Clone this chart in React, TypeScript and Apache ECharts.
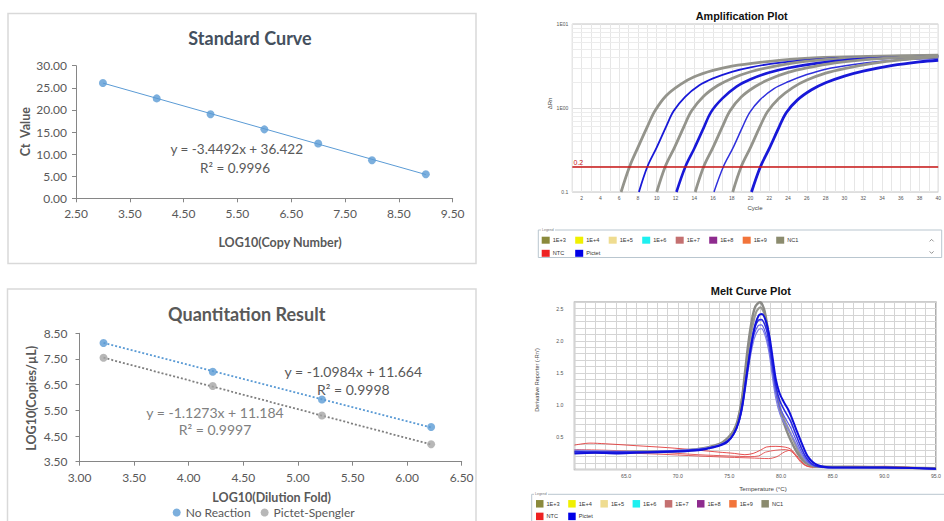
import { useEffect, useRef } from 'react';
import * as echarts from 'echarts';

// ---------- Standard curve ----------
const stdLogCopies = [3, 4, 5, 6, 7, 8, 9];
const stdCt = [26.1, 22.6, 19.0, 15.6, 12.4, 8.6, 5.45];
const stdFit = [[3, 26.07], [9, 5.38]];
const stdXTicks = { min: 2.5, max: 9.5, step: 1 };
const stdYTicks = { min: 0, max: 30, step: 5 };

// ---------- Quantitation result ----------
const qDilution = [3.22, 4.22, 5.22, 6.22];
const qNoReaction = [8.12, 7.0, 5.92, 4.85];
const qPictet = [7.55, 6.45, 5.3, 4.18];
const qNoReactionFit = [[3.22, 8.13], [6.22, 4.83]];
const qPictetFit = [[3.22, 7.55], [6.22, 4.17]];

// ---------- Amplification plot (cycle, ΔRn) ----------
const ampG1 = [[6.2, 0.1], [7.1, 0.2], [8, 0.34], [9, 0.6], [9.8, 0.92], [11, 1.4], [12.5, 1.9], [14, 2.35], [16, 2.8], [18, 3.15], [21, 3.5], [25, 3.85], [30, 4.05], [35, 4.18], [40, 4.25]];
const ampB1 = [[8.1, 0.1], [9, 0.2], [10, 0.34], [11, 0.6], [11.8, 0.92], [13, 1.35], [14.5, 1.85], [16, 2.25], [18, 2.7], [20, 3.05], [23, 3.45], [27, 3.8], [31, 3.98], [35, 4.08], [40, 4.15]];
const ampG2 = [[10, 0.1], [10.9, 0.2], [11.9, 0.34], [12.9, 0.6], [13.7, 0.92], [15, 1.38], [16.5, 1.85], [18, 2.25], [20, 2.7], [22, 3.05], [25, 3.5], [29, 3.85], [33, 4.05], [37, 4.15], [40, 4.2]];
const ampB2 = [[12.1, 0.1], [13.05, 0.2], [14, 0.33], [15, 0.58], [15.8, 0.9], [17, 1.3], [18.5, 1.8], [20, 2.2], [22, 2.65], [24, 3.0], [27, 3.4], [30, 3.7], [34, 3.92], [40, 4.1]];
const ampG3 = [[14.1, 0.1], [15, 0.2], [16, 0.34], [17, 0.6], [17.8, 0.92], [19, 1.35], [20.5, 1.8], [22, 2.2], [24, 2.65], [26, 3.0], [29, 3.45], [32, 3.75], [36, 4.0], [40, 4.15]];
const ampB3 = [[16.1, 0.1], [17.1, 0.2], [18.1, 0.33], [19.1, 0.58], [19.9, 0.88], [21, 1.25], [22.5, 1.7], [24, 2.05], [26, 2.5], [28, 2.9], [31, 3.3], [34, 3.6], [37, 3.8], [40, 3.95]];
const ampG4 = [[18.1, 0.1], [19, 0.2], [20, 0.34], [21, 0.6], [21.8, 0.9], [23, 1.3], [24.5, 1.75], [26, 2.15], [28, 2.6], [30, 2.95], [33, 3.4], [36, 3.75], [40, 4.05]];
const ampB4 = [[20.1, 0.1], [21.05, 0.2], [22, 0.33], [23, 0.58], [23.8, 0.88], [25, 1.25], [26.5, 1.65], [28, 2.0], [30, 2.4], [32, 2.75], [35, 3.2], [38, 3.55], [40, 3.7]];
const ampThreshold = 0.2;
const ampMinorGrid = [0.2, 0.3, 0.4, 0.5, 0.6, 0.7, 0.8, 0.9, 2, 3, 4, 5, 6, 7, 8, 9];

// ---------- Melt curve plot (°C, -Rn') ----------
const meltGray1 = [[60, 0.29], [61, 0.28], [62, 0.28], [64, 0.27], [66, 0.28], [68, 0.28], [70, 0.29], [71.5, 0.31], [72.5, 0.33], [73.5, 0.37], [74.3, 0.42], [74.9, 0.5], [75.4, 0.6], [75.8, 0.76], [76.2, 1.08], [76.5, 1.5], [76.8, 1.92], [77.15, 2.3], [77.5, 2.53], [77.95, 2.6], [78.35, 2.5], [78.7, 2.2], [79.05, 1.76], [79.4, 1.35], [79.7, 1.07], [80.0, 0.86], [80.5, 0.62], [81.0, 0.43], [81.6, 0.25], [82.3, 0.11], [83.2, 0.05], [85, 0.04], [88, 0.04], [91, 0.03], [95, 0.02]];
const meltGray2 = [[60, 0.26], [62, 0.26], [64, 0.26], [66, 0.27], [68, 0.27], [70, 0.28], [72, 0.31], [73.5, 0.36], [74.5, 0.43], [75.1, 0.52], [75.6, 0.66], [76.0, 0.9], [76.4, 1.3], [76.8, 1.8], [77.2, 2.2], [77.6, 2.45], [78.0, 2.52], [78.4, 2.42], [78.75, 2.12], [79.1, 1.7], [79.45, 1.3], [79.8, 1.02], [80.3, 0.78], [80.8, 0.6], [81.3, 0.42], [81.9, 0.22], [82.6, 0.09], [83.5, 0.04], [86, 0.04], [90, 0.03], [95, 0.02]];
const meltBlue1 = [[60, 0.25], [62, 0.26], [64, 0.25], [66, 0.26], [68, 0.27], [70, 0.28], [72, 0.3], [73, 0.33], [74, 0.37], [74.8, 0.43], [75.4, 0.55], [75.9, 0.74], [76.3, 1.05], [76.7, 1.5], [77.1, 1.92], [77.5, 2.25], [77.85, 2.4], [78.15, 2.42], [78.55, 2.3], [78.9, 2.05], [79.2, 1.72], [79.5, 1.4], [79.85, 1.19], [80.3, 1.04], [80.7, 0.93], [81.0, 0.82], [81.5, 0.61], [82.0, 0.41], [82.6, 0.2], [83.5, 0.07], [85, 0.03], [90, 0.03], [95, 0.01]];
const meltBlue2 = [[60, 0.28], [62, 0.27], [64, 0.27], [66, 0.27], [68, 0.28], [70, 0.29], [72, 0.31], [73.5, 0.35], [74.5, 0.41], [75.2, 0.5], [75.7, 0.65], [76.2, 0.95], [76.6, 1.4], [77.0, 1.85], [77.4, 2.18], [77.8, 2.32], [78.1, 2.33], [78.5, 2.22], [78.85, 1.98], [79.15, 1.65], [79.5, 1.3], [79.9, 1.06], [80.4, 0.9], [80.9, 0.76], [81.4, 0.56], [81.9, 0.36], [82.5, 0.17], [83.3, 0.06], [85, 0.03], [90, 0.03], [95, 0.01]];
const meltBlue3 = [[60, 0.27], [63, 0.27], [66, 0.27], [69, 0.28], [72, 0.31], [73.5, 0.35], [74.5, 0.41], [75.2, 0.5], [75.7, 0.64], [76.2, 0.92], [76.6, 1.35], [77.0, 1.78], [77.4, 2.1], [77.8, 2.24], [78.1, 2.25], [78.5, 2.12], [78.85, 1.88], [79.15, 1.55], [79.5, 1.2], [79.9, 0.96], [80.4, 0.8], [80.9, 0.66], [81.4, 0.48], [81.9, 0.3], [82.5, 0.14], [83.3, 0.05], [85, 0.03], [90, 0.03], [95, 0.01]];
const meltBlue4 = [[60, 0.3], [63, 0.29], [66, 0.28], [69, 0.29], [72, 0.32], [73.5, 0.36], [74.5, 0.42], [75.2, 0.51], [75.7, 0.64], [76.2, 0.9], [76.6, 1.3], [77.0, 1.72], [77.4, 2.03], [77.8, 2.17], [78.1, 2.19], [78.5, 2.06], [78.85, 1.8], [79.15, 1.45], [79.5, 1.1], [79.9, 0.86], [80.4, 0.7], [80.9, 0.57], [81.4, 0.42], [81.9, 0.26], [82.5, 0.12], [83.3, 0.05], [85, 0.03], [90, 0.03], [95, 0.01]];
const meltNtc1 = [[60, 0.38], [61.5, 0.41], [63, 0.4], [66, 0.37], [69, 0.34], [72, 0.3], [74, 0.27], [75.5, 0.25], [76.5, 0.23], [77.3, 0.25], [78, 0.3], [78.6, 0.35], [79.5, 0.36], [80.3, 0.35], [80.9, 0.32], [81.5, 0.22], [82.2, 0.09], [83, 0.04], [86, 0.04], [90, 0.05], [93, 0.03], [95, 0.02]];
const meltNtc2 = [[60, 0.31], [63, 0.3], [66, 0.28], [69, 0.26], [72, 0.23], [75, 0.21], [77, 0.2], [77.8, 0.21], [78.5, 0.27], [79.5, 0.3], [80.4, 0.31], [81, 0.28], [81.6, 0.18], [82.3, 0.07], [83, 0.04], [87, 0.05], [91, 0.04], [95, 0.02]];
const meltNtc3 = [[60, 0.27], [64, 0.26], [68, 0.24], [72, 0.21], [75, 0.19], [77, 0.18], [78.8, 0.17], [79.6, 0.2], [80.3, 0.27], [80.9, 0.3], [81.4, 0.22], [82, 0.1], [82.8, 0.04], [88, 0.04], [95, 0.02]];

// ---------- instrument legends ----------
const qpcrLegendNames = ['1E+3', '1E+4', '1E+5', '1E+6', '1E+7', '1E+8', '1E+9', 'NC1', 'NTC', 'Pictet'];
const qpcrLegendColors = ['#8b8a3c', '#f0f000', '#efdc90', '#1ef0f0', '#c47070', '#8e2b8e', '#f2743a', '#8b8b6e', '#ee2222', '#0000e6'];

const XL_FONT = 'Lato, "Open Sans", sans-serif';
const INST_FONT = '"Liberation Sans", Arial, sans-serif';
const AX = '#868686';
const TXT = '#595959';
const GRAY_AMP = '#94948c';
const BLUE_AMP = '#1818d8';

function txt(x: number, y: number, text: string, size: number, opts: any = {}) {
  return {
    type: 'text',
    x,
    y,
    rotation: opts.rotation || 0,
    silent: true,
    z: 100,
    style: {
      text,
      fill: opts.fill || TXT,
      fontSize: size,
      fontWeight: opts.bold ? 'bold' : 'normal',
      fontFamily: opts.font || XL_FONT,
      align: opts.align || 'center',
      verticalAlign: 'middle',
      textAlign: opts.align || 'center',
      textVerticalAlign: 'middle',
    },
  };
}

function legendBox(x0: number, y1: number, y2: number, dx: number, sw: number, sh: number, fs: number) {
  const els: any[] = [];
  qpcrLegendNames.forEach((name, i) => {
    const row = i < 8 ? 0 : 1;
    const col = i < 8 ? i : i - 8;
    const x = x0 + col * dx;
    const y = row === 0 ? y1 : y2;
    els.push({ type: 'rect', silent: true, z: 100, shape: { x, y: y - sh / 2, width: sw, height: sh }, style: { fill: qpcrLegendColors[i] } });
    els.push(txt(x + sw + 3, y, name, fs, { align: 'left', font: INST_FONT, fill: '#333' }));
  });
  return els;
}

export default function App() {
  const ref = useRef<HTMLDivElement>(null);
  useEffect(() => {
    if (!ref.current) return;
    const chart = echarts.init(ref.current, null, { renderer: 'svg' });

    const xlAxisCommon = {
      axisLine: { show: true, onZero: false, lineStyle: { color: AX, width: 1 } },
      axisTick: { show: true, length: 4, lineStyle: { color: AX } },
      splitLine: { show: false },
    };
    const fmt2 = (v: number) => v.toFixed(2);

    const ampGroups = [
      { d: ampG1, c: GRAY_AMP, w: 2.8 }, { d: ampB1, c: BLUE_AMP, w: 1.8 }, { d: ampG2, c: GRAY_AMP, w: 2.8 }, { d: ampB2, c: BLUE_AMP, w: 2.6 },
      { d: ampG3, c: GRAY_AMP, w: 2.8 }, { d: ampB3, c: '#3030dc', w: 1.5 }, { d: ampG4, c: GRAY_AMP, w: 2.8 }, { d: ampB4, c: BLUE_AMP, w: 2.8 },
    ];
    const meltCurves = [
      { d: meltNtc1, c: '#e23a3a', w: 0.9 }, { d: meltNtc2, c: '#e25050', w: 0.9 }, { d: meltNtc3, c: '#e24a4a', w: 0.9 },
      { d: meltGray2, c: '#9a9a94', w: 2.2 }, { d: meltGray1, c: '#8a8a86', w: 2.4 },
      { d: meltBlue4, c: '#8080e6', w: 1.2 }, { d: meltBlue3, c: '#5a5ae6', w: 1.2 },
      { d: meltBlue2, c: '#2a2ae0', w: 1.6 }, { d: meltBlue1, c: '#1010dc', w: 2 },
    ];

    const series: any[] = [
      // standard curve
      { type: 'line', name: 'Standard fit', xAxisIndex: 0, yAxisIndex: 0, data: stdFit, showSymbol: false, lineStyle: { color: '#5b9bd5', width: 1 }, z: 2 },
      { type: 'scatter', name: 'Ct', xAxisIndex: 0, yAxisIndex: 0, data: stdLogCopies.map((x, i) => [x, stdCt[i]]), symbolSize: 8, itemStyle: { color: '#5b9bd5' }, z: 3 },
      // quantitation
      { type: 'line', name: 'No Reaction fit', xAxisIndex: 1, yAxisIndex: 1, data: qNoReactionFit, showSymbol: false, lineStyle: { color: '#5b9bd5', width: 1.8, type: [2, 2] }, z: 2 },
      { type: 'line', name: 'Pictet fit', xAxisIndex: 1, yAxisIndex: 1, data: qPictetFit, showSymbol: false, lineStyle: { color: '#7f7f7f', width: 1.8, type: [2, 2] }, z: 2 },
      { type: 'scatter', name: 'No Reaction', xAxisIndex: 1, yAxisIndex: 1, data: qDilution.map((x, i) => [x, qNoReaction[i]]), symbolSize: 8, itemStyle: { color: '#5b9bd5' }, z: 3 },
      { type: 'scatter', name: 'Pictet-Spengler', xAxisIndex: 1, yAxisIndex: 1, data: qDilution.map((x, i) => [x, qPictet[i]]), symbolSize: 8, itemStyle: { color: '#a5a5a5' }, z: 3 },
      // amplification grid lines (minor log) + threshold
      {
        type: 'line', name: 'amp-grid', xAxisIndex: 2, yAxisIndex: 2, data: [[1, 0.1]], showSymbol: false, lineStyle: { opacity: 0 }, z: 1, silent: true,
        markLine: { z: 1, silent: true, symbol: 'none', label: { show: false }, lineStyle: { color: '#ececec', width: 1, type: 'solid' }, data: ampMinorGrid.map((v) => ({ yAxis: v })) },
      },
      ...ampGroups.map((g, i) => ({
        type: 'line', name: 'amp' + i, xAxisIndex: 2, yAxisIndex: 2, data: g.d, showSymbol: false, smooth: 0.35,
        lineStyle: { color: g.c, width: g.w }, z: 3,
      })),
      {
        type: 'line', name: 'threshold', xAxisIndex: 2, yAxisIndex: 2, data: [[1, 0.1]], showSymbol: false, lineStyle: { opacity: 0 }, z: 5, silent: true,
        markLine: { z: 6, silent: true, symbol: 'none', label: { show: false }, lineStyle: { color: '#c81414', width: 1.6, type: 'solid' }, data: [{ yAxis: ampThreshold }] },
      },
      // melt curves
      ...meltCurves.map((m, i) => ({
        type: 'line', name: 'melt' + i, xAxisIndex: 3, yAxisIndex: 3, data: m.d, showSymbol: false, smooth: 0.3,
        lineStyle: { color: m.c, width: m.w }, z: 3,
      })),
    ];

    const graphic: any[] = [
      // panel boxes
      { type: 'rect', silent: true, z: -1, shape: { x: 8, y: 13.5, width: 468, height: 250 }, style: { fill: 'none', stroke: '#d9d9d9', lineWidth: 1.5 } },
      { type: 'rect', silent: true, z: -1, shape: { x: 7.5, y: 289, width: 468.5, height: 245 }, style: { fill: 'none', stroke: '#d9d9d9', lineWidth: 1.5 } },
      // standard curve texts
      txt(250, 38.3, 'Standard Curve', 18, { bold: true, fill: '#44505e' }),
      txt(25, 131.7, 'Ct  Value', 12.5, { bold: true, rotation: Math.PI / 2 }),
      txt(280, 242.7, 'LOG10(Copy Number)', 12.5, { bold: true }),
      txt(236.7, 149.3, 'y = -3.4492x + 36.422', 13.5),
      txt(235, 167.7, 'R² = 0.9996', 13.5),
      // quantitation texts
      txt(246.7, 314.3, 'Quantitation Result', 18, { bold: true }),
      txt(31.7, 398.3, 'LOG10(Copies/µL)', 12.5, { bold: true, rotation: Math.PI / 2 }),
      txt(271.7, 497.3, 'LOG10(Dilution Fold)', 12.5, { bold: true }),
      txt(353.3, 371, 'y = -1.0984x + 11.664', 14),
      txt(353.3, 389, 'R² = 0.9998', 14),
      txt(215, 412.7, 'y = -1.1273x + 11.184', 14, { fill: '#808080' }),
      txt(215, 429.3, 'R² = 0.9997', 14, { fill: '#808080' }),
      // amplification texts
      txt(741.7, 16.3, 'Amplification Plot', 10.8, { bold: true, font: INST_FONT, fill: '#111' }),
      txt(755, 207.5, 'Cycle', 6, { font: INST_FONT, fill: '#444' }),
      txt(550, 103.5, 'ΔRn', 6, { font: INST_FONT, fill: '#444', rotation: Math.PI / 2 }),
      txt(573.5, 162.2, '0.2', 7, { font: INST_FONT, fill: '#c81414', align: 'left' }),
      // amplification legend
      { type: 'rect', silent: true, z: 99, shape: { x: 538.3, y: 230, width: 403.4, height: 27.5 }, style: { fill: '#fff', stroke: '#b9c6cf', lineWidth: 1 } },
      { type: 'rect', silent: true, z: 99, shape: { x: 541, y: 228, width: 14, height: 4 }, style: { fill: '#fff' } },
      txt(542, 230, 'Legend', 3.5, { font: INST_FONT, fill: '#777', align: 'left' }),
      ...legendBox(541.7, 240.2, 253.3, 33.5, 8, 7, 5.6),
      { type: 'polyline', silent: true, z: 100, shape: { points: [[929.6, 241.4], [931.6, 239.4], [933.6, 241.4]] }, style: { stroke: '#777', fill: 'none', lineWidth: 0.8 } },
      { type: 'polyline', silent: true, z: 100, shape: { points: [[929.6, 251.4], [931.6, 253.4], [933.6, 251.4]] }, style: { stroke: '#777', fill: 'none', lineWidth: 0.8 } },
      // melt texts
      txt(750.8, 291, 'Melt Curve Plot', 11, { bold: true, font: INST_FONT, fill: '#111' }),
      txt(763, 488.3, 'Temperature (°C)', 6.2, { font: INST_FONT, fill: '#444' }),
      txt(537.3, 380, "Derivative Reporter (-Rn')", 5.6, { font: INST_FONT, fill: '#444', rotation: Math.PI / 2 }),
      // melt legend
      { type: 'rect', silent: true, z: 99, shape: { x: 531.7, y: 494.3, width: 420, height: 40 }, style: { fill: '#fff', stroke: '#b9c6cf', lineWidth: 1 } },
      { type: 'rect', silent: true, z: 99, shape: { x: 534, y: 492.3, width: 14, height: 4 }, style: { fill: '#fff' } },
      txt(535, 494.3, 'Legend', 3.5, { font: INST_FONT, fill: '#777', align: 'left' }),
      ...legendBox(536, 503.8, 516.4, 32.2, 7.5, 7.5, 5.6),
    ];

    chart.setOption({
      animation: false,
      backgroundColor: '#ffffff',
      textStyle: { fontFamily: XL_FONT },
      legend: {
        data: ['No Reaction', 'Pictet-Spengler'],
        left: 172.7,
        top: 506.5,
        icon: 'circle',
        itemWidth: 8,
        itemHeight: 8,
        itemGap: 10,
        padding: 0,
        textStyle: { fontSize: 12, color: TXT, fontFamily: XL_FONT },
        selectedMode: false,
      },
      grid: [
        { left: 76, top: 65.7, width: 376.7, height: 132.6 },
        { left: 79.5, top: 333.3, width: 382.2, height: 128.4 },
        { left: 572.3, top: 24, width: 367.7, height: 168, show: true, borderColor: '#c4c4c4', borderWidth: 1, backgroundColor: '#ffffff' },
        { left: 574.5, top: 302.3, width: 365, height: 167.2, show: true, borderColor: '#999999', borderWidth: 1.5, backgroundColor: '#ffffff' },
      ],
      xAxis: [
        {
          gridIndex: 0, type: 'value', min: stdXTicks.min, max: stdXTicks.max, interval: stdXTicks.step, ...xlAxisCommon,
          axisLabel: { formatter: fmt2, fontSize: 12, color: TXT, margin: 9, fontFamily: XL_FONT },
        },
        {
          gridIndex: 1, type: 'value', min: 3, max: 6.5, interval: 0.5, ...xlAxisCommon,
          axisLabel: { formatter: fmt2, fontSize: 12, color: TXT, margin: 10, fontFamily: XL_FONT },
        },
        {
          gridIndex: 2, type: 'value', min: 1, max: 40, interval: 1,
          axisLine: { show: false }, axisTick: { show: false },
          axisLabel: { formatter: (v: number) => (v % 2 === 0 ? String(v) : ''), fontSize: 5, color: '#555', margin: 3, fontFamily: INST_FONT },
          splitLine: { show: true, lineStyle: { color: '#e6e6e6', width: 1 } },
        },
        {
          gridIndex: 3, type: 'value', min: 60, max: 95, interval: 1,
          axisLine: { show: false }, axisTick: { show: false },
          axisLabel: { formatter: (v: number) => (v % 5 === 0 && v > 60 ? v.toFixed(1) : ''), fontSize: 5.2, color: '#555', margin: 4, fontFamily: INST_FONT },
          splitLine: { show: true, lineStyle: { color: '#d4d4d4', width: 1 } },
        },
      ],
      yAxis: [
        {
          gridIndex: 0, type: 'value', min: stdYTicks.min, max: stdYTicks.max, interval: stdYTicks.step, ...xlAxisCommon,
          axisLabel: { formatter: fmt2, fontSize: 12, color: TXT, margin: 9, fontFamily: XL_FONT },
        },
        {
          gridIndex: 1, type: 'value', min: 3.5, max: 8.5, interval: 1, ...xlAxisCommon,
          axisLabel: { formatter: fmt2, fontSize: 12, color: TXT, margin: 12, fontFamily: XL_FONT },
        },
        {
          gridIndex: 2, type: 'log', logBase: 10, min: 0.1, max: 10,
          axisLine: { show: false }, axisTick: { show: false },
          axisLabel: { formatter: (v: number) => (v >= 9.99 ? '1E01' : v >= 0.99 ? '1E00' : '0.1'), fontSize: 5, color: '#555', margin: 4, fontFamily: INST_FONT },
          splitLine: { show: true, lineStyle: { color: '#dedede', width: 1 } },
        },
        {
          gridIndex: 3, type: 'value', min: 0, max: 2.6, interval: 0.1,
          axisLine: { show: false }, axisTick: { show: false },
          axisLabel: {
            formatter: (v: number) => {
              const r = Math.round(v * 10);
              return r % 5 === 0 && r > 0 ? (r / 10).toFixed(1) : '';
            },
            fontSize: 5.2, color: '#555', margin: 11, fontFamily: INST_FONT,
          },
          splitLine: { show: true, lineStyle: { color: '#d4d4d4', width: 1 } },
        },
      ],
      series,
      graphic,
    });
    return () => chart.dispose();
  }, []);
  return <div ref={ref} style={{ position: 'fixed', left: 0, top: 0, width: 944, height: 521, background: '#fff' }} />;
}
